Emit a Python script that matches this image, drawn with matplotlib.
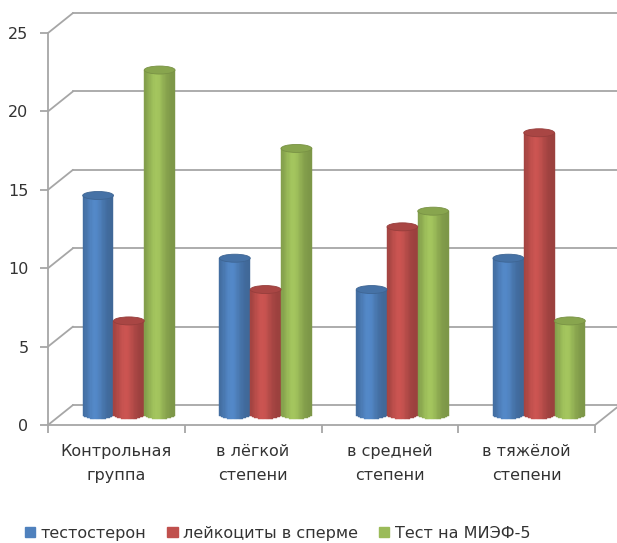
import numpy as np
import matplotlib.pyplot as plt
import matplotlib.colors as mcolors
from matplotlib.patches import Ellipse, Patch, ConnectionPatch
from matplotlib.transforms import ScaledTranslation

categories = ["Контрольная\nгруппа", "в лёгкой\nстепени", "в средней\nстепени", "в тяжёлой\nстепени"]
series = ["тестостерон", "лейкоциты в сперме", "Тест на МИЭФ-5"]
testosterone = [14, 10, 8, 10]
leukocytes = [6, 8, 12, 18]
miaf = [22, 17, 13, 6]
yticks = [0, 5, 10, 15, 20, 25]

colors = ["#4f81bd", "#c0504d", "#9bbb59"]
grid_c = "#a6a6a6"
text_c = "#333333"

fig = plt.figure(figsize=(6.17, 5.43), dpi=100)
ax = fig.add_axes([48 / 617, 118 / 543, 547 / 617, 392 / 543])
ax.set_xlim(0, len(categories))
ax.set_ylim(0, 25)

# depth offsets (3d look): back wall and middle plane where the cylinders stand
back = ax.transData + ScaledTranslation(0.25, 0.20, fig.dpi_scale_trans)
mid = ax.transData + ScaledTranslation(0.125, 0.10, fig.dpi_scale_trans)

# walls
for v in yticks:
    ax.plot([0, len(categories)], [v, v], transform=back, color=grid_c, lw=1.3, clip_on=False, zorder=1)
    fig.add_artist(ConnectionPatch(xyA=(0, v), coordsA=ax.transData, xyB=(0, v), coordsB=back,
                                   color=grid_c, lw=1.3, zorder=1))
fig.add_artist(ConnectionPatch(xyA=(len(categories), 0), coordsA=ax.transData,
                               xyB=(len(categories), 0), coordsB=back, color=grid_c, lw=1.3, zorder=1))

# cylinders
w = 0.225
ry = 4 / (392 / 25)
nstrip = 24
u = np.linspace(-1, 1, nstrip + 1)
uc = (u[:-1] + u[1:]) / 2
shade = 0.80 + 0.26 * np.exp(-((uc + 0.2) / 0.6) ** 2)
for j, vals in enumerate([testosterone, leukocytes, miaf]):
    base = np.array(mcolors.to_rgb(colors[j]))
    for i, v in enumerate(vals):
        xc = i + 0.5 + (j - 1) * w
        xs = xc + uc * w / 2
        bottoms = -ry * np.sqrt(1 - uc ** 2)
        cols = [tuple(np.clip(base * s, 0, 1)) for s in shade]
        ax.bar(xs, v - bottoms, width=w / nstrip, bottom=bottoms, color=cols, edgecolor=cols,
               lw=0.3, transform=mid, clip_on=False, zorder=3)
        ax.add_patch(Ellipse((xc, v), w, 2 * ry, facecolor=tuple(base * 0.88), edgecolor=tuple(base * 0.78),
                             lw=0.6, transform=mid, clip_on=False, zorder=4))

# axes styling
for s in ["top", "right"]:
    ax.spines[s].set_visible(False)
for s in ["left", "bottom"]:
    ax.spines[s].set_color(grid_c)
    ax.spines[s].set_linewidth(1.3)
ax.set_yticks(yticks)
ax.set_xticks(range(len(categories) + 1))
ax.set_xticklabels([])
ax.set_xticks(np.arange(len(categories)) + 0.5, minor=True)
ax.set_xticklabels(categories, minor=True, fontsize=11.5, color=text_c, linespacing=1.75)
ax.tick_params(axis="x", which="major", direction="out", length=6, color=grid_c, width=1.3)
ax.tick_params(axis="x", which="minor", length=0, pad=14)
ax.tick_params(axis="y", direction="out", length=6, color=grid_c, width=1.3, labelsize=11.5,
               labelcolor=text_c, pad=8)

handles = [Patch(facecolor=c, edgecolor=c) for c in colors]
fig.legend(handles, series, loc="center", bbox_to_anchor=(0.45, 0.018), ncol=3, frameon=False,
           handlelength=0.65, handleheight=0.65, handletextpad=0.35, columnspacing=1.3,
           fontsize=11.5, labelcolor=text_c)

fig.savefig("out.png", dpi=100)
